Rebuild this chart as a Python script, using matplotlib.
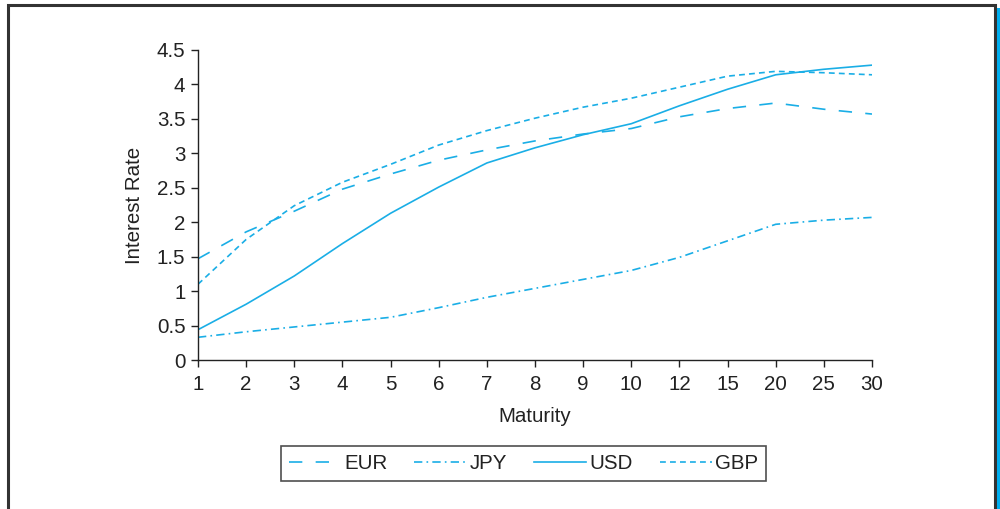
import numpy as np
import matplotlib.pyplot as plt
from matplotlib.patches import Rectangle

plt.rcParams['font.family'] = ['Liberation Sans', 'DejaVu Sans']

maturities = ["1", "2", "3", "4", "5", "6", "7", "8", "9", "10", "12", "15", "20", "25", "30"]
eur = [1.47, 1.86, 2.16, 2.48, 2.70, 2.90, 3.05, 3.18, 3.28, 3.36, 3.53, 3.65, 3.73, 3.64, 3.57]
jpy = [0.33, 0.41, 0.48, 0.55, 0.62, 0.76, 0.91, 1.04, 1.17, 1.30, 1.49, 1.73, 1.97, 2.03, 2.07]
usd = [0.44, 0.81, 1.22, 1.69, 2.13, 2.51, 2.86, 3.08, 3.27, 3.43, 3.69, 3.93, 4.14, 4.22, 4.28]
gbp = [1.10, 1.75, 2.24, 2.58, 2.84, 3.12, 3.33, 3.51, 3.67, 3.80, 3.96, 4.12, 4.19, 4.17, 4.14]

col = "#1aaee6"
fs = 14.8
x = np.arange(len(maturities))

fig = plt.figure(figsize=(10, 5.09), dpi=100)
ax = fig.add_axes([0.198, 0.2927, 0.674, 0.6091])

ax.plot(x, eur, color=col, lw=1.2, dashes=(8, 8), label="EUR")
ax.plot(x, jpy, color=col, lw=1.2, dashes=(5, 2.5, 1, 2.5), label="JPY")
ax.plot(x, usd, color=col, lw=1.2, label="USD")
ax.plot(x, gbp, color=col, lw=1.2, dashes=(3.5, 2.5), label="GBP")

ax.set_xlim(0, len(maturities) - 1)
ax.set_ylim(0, 4.5)
ax.set_xticks(x)
ax.set_xticklabels(maturities)
ax.set_yticks(np.arange(0, 4.6, 0.5))
ax.set_yticklabels(["0", "0.5", "1", "1.5", "2", "2.5", "3", "3.5", "4", "4.5"])
ax.spines["top"].set_visible(False)
ax.spines["right"].set_visible(False)
for s in ["left", "bottom"]:
    ax.spines[s].set_color("#222222")
    ax.spines[s].set_linewidth(1.0)
ax.tick_params(axis="both", direction="out", length=5, width=1.0, color="#222222",
               labelsize=fs, labelcolor="#222222")
ax.tick_params(axis="x", pad=6)
ax.tick_params(axis="y", pad=4)
ax.set_ylabel("Interest Rate", fontsize=fs, color="#222222", labelpad=9)
ax.set_xlabel("Maturity", fontsize=fs, color="#222222", labelpad=9)

leg = ax.legend(loc="upper center", bbox_to_anchor=(0.483, -0.277), ncol=4,
                fontsize=fs, frameon=True, fancybox=False, handlelength=2.55,
                handletextpad=0.15, columnspacing=1.3, borderpad=0.4,
                borderaxespad=0)
leg.get_frame().set_edgecolor("#222222")
leg.get_frame().set_linewidth(1.2)
for t in leg.get_texts():
    t.set_color("#222222")

# outer frame of the figure
fig.patches.append(Rectangle((0.008, -0.05), 0.987, 1.04, transform=fig.transFigure,
                             fill=False, edgecolor="#333333", lw=2.2))
fig.patches.append(Rectangle((0.997, 0.0), 0.01, 0.985, transform=fig.transFigure,
                             facecolor="#00aeef", edgecolor="none"))

fig.savefig("out.png", dpi=100)
